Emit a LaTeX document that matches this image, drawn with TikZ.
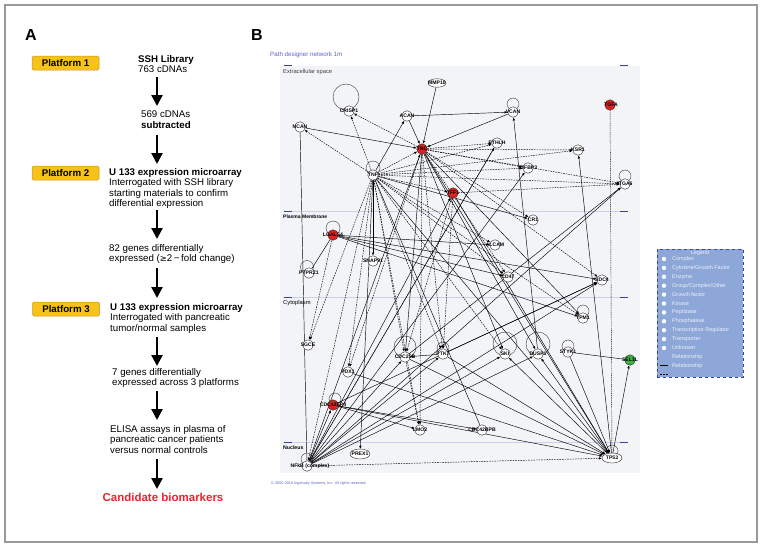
\documentclass[tikz,border=0pt]{standalone}
\usepackage{fontspec}
\setmainfont{Liberation Sans}
\usetikzlibrary{arrows.meta,shapes.geometric}
\definecolor{plat}{HTML}{F7C21B}
\definecolor{platb}{HTML}{C9961A}
\definecolor{candred}{HTML}{E3262E}
\definecolor{netred}{HTML}{E02020}
\definecolor{netgreen}{HTML}{3DB33D}
\definecolor{bgpanel}{HTML}{F3F4F7}
\definecolor{memb}{HTML}{CDD0EC}
\definecolor{membd}{HTML}{3A3FA0}
\definecolor{legfill}{HTML}{8DA7D9}
\definecolor{netblue}{HTML}{5A63C8}
\definecolor{legtxt}{HTML}{EEF1F8}
\pgfdeclarelayer{back}
\pgfdeclarelayer{bg}
\pgfsetlayers{back,bg,main}
\tikzset{
  platbox/.style={rounded corners=1.5pt,fill=plat,draw=platb,line width=0.5pt,minimum width=67pt,minimum height=14pt,inner sep=0pt,font=\bfseries\fontsize{9.7}{12}\selectfont},
  body/.style={align=left,anchor=north west,inner sep=0pt,font=\fontsize{9.7}{10.5}\selectfont},
  bigarr/.style={line width=2.3pt,-{Triangle[length=11pt,width=11pt]}},
  gn/.style={circle,draw=black!85,line width=0.4pt,fill=white,minimum size=10.5pt,inner sep=0pt},
  rn/.style={gn,fill=netred},
  grn/.style={gn,fill=netgreen},
  gl/.style={inner sep=0pt,font=\fontsize{5.1}{6}\selectfont\bfseries},
  e/.style={line width=0.45pt,-{Latex[length=3pt,width=2.5pt]}},
  ed/.style={e,dash pattern=on 1.6pt off 1pt},
  es/.style={line width=0.45pt},
  loopst/.style={draw=black!80,line width=0.4pt},
  leg/.style={anchor=west,inner sep=0pt,text=legtxt,font=\fontsize{5.5}{6}\selectfont},
  mlab/.style={anchor=west,inner sep=0pt,font=\fontsize{5.8}{6}\selectfont}
}
\begin{document}
\begin{tikzpicture}[x=1pt,y=-1pt]
\useasboundingbox (0,0) rectangle (762,547);
\draw[black!40,line width=1.2pt] (5,5) rectangle (757,542);

% ---------------- Panel A ----------------
\node[inner sep=0pt,font=\bfseries\fontsize{16}{18}\selectfont] (lA) at (31,35) {A};
\node[platbox] (p1) at (65.5,63) {Platform 1};
\node[platbox] (p2) at (65.5,173) {Platform 2};
\node[platbox] (p3) at (66,309) {Platform 3};

\node[body] (t1) at (138,55) {\textbf{SSH Library}\\763 cDNAs};
\node[body] (t2) at (141,111) {569 cDNAs\\\textbf{subtracted}};
\node[body] (t3) at (109,168) {\textbf{U 133 expression microarray}\\Interrogated with SSH library\\starting materials to confirm\\differential expression};
\node[body] (t4) at (109,244) {82 genes differentially\\expressed (\fontspec{DejaVu Sans}\fontsize{8.4}{10.5}\selectfont≥\fontspec{Liberation Sans}\fontsize{9.7}{10.5}\selectfont2\,−\,fold change)};
\node[body] (t5) at (110,303) {\textbf{U 133 expression microarray}\\Interrogated with pancreatic\\tumor/normal samples};
\node[body] (t6) at (112,368) {7 genes differentially\\expressed across 3 platforms};
\node[body] (t7) at (110,425) {ELISA assays in plasma of\\pancreatic cancer patients\\versus normal controls};
\node[inner sep=0pt,text=candred,font=\bfseries\fontsize{11.5}{13}\selectfont] (t8) at (163,497) {Candidate biomarkers};

\coordinate (a1s) at (157,77);  \coordinate (a1e) at (157,106);
\coordinate (a2s) at (157,135); \coordinate (a2e) at (157,164);
\coordinate (a3s) at (157,210); \coordinate (a3e) at (157,239);
\coordinate (a4s) at (157,268); \coordinate (a4e) at (157,298);
\coordinate (a5s) at (157,337); \coordinate (a5e) at (157,366);
\coordinate (a6s) at (157,391); \coordinate (a6e) at (157,420);
\coordinate (a7s) at (157,459); \coordinate (a7e) at (157,489);
\foreach \i in {1,...,7} \draw[bigarr] (a\i s) -- (a\i e);

% ---------------- Panel B ----------------
\node[inner sep=0pt,font=\bfseries\fontsize{16}{18}\selectfont] (lB) at (257,35) {B};
\node[anchor=west,inner sep=0pt,text=netblue,font=\fontsize{6.2}{7}\selectfont] (title) at (270,55) {Path designer network 1m};
\node[anchor=west,inner sep=0pt,text=netblue,font=\fontsize{3.8}{4}\selectfont] (copy) at (271,484) {© 2000-2010 Ingenuity Systems, Inc. All rights reserved.};

\begin{pgfonlayer}{back}
\fill[bgpanel] (280,66) rectangle (640,473);
\foreach \yy in {211,297,442} \draw[memb,line width=1pt] (283,\yy) -- (628,\yy);
\foreach \yy in {65,211,297,442} {\draw[membd,line width=0.9pt] (284,\yy) -- (292,\yy); \draw[membd,line width=0.9pt] (620,\yy) -- (628,\yy);}
\end{pgfonlayer}
\node[mlab,text=black!75] (cx1) at (283,72) {Extracellular space};
\node[mlab,font=\fontsize{5}{6}\selectfont\bfseries] (cx2) at (283,217) {Plasma Membrane};
\node[mlab] (cx3) at (283,303) {Cytoplasm};
\node[mlab,font=\fontsize{5.2}{6}\selectfont\bfseries] (cx4) at (283,448) {Nucleus};

% nodes
\node[gn,ellipse,minimum width=18pt,minimum height=8.5pt] (mmp) at (437,83) {};
\node[gn] (cris) at (349,111) {};
\node[gn] (acan) at (407,116) {};
\node[gn] (ncan) at (300,127) {};
\node[gn] (vcan) at (513,112) {};
\node[rn] (tnc) at (422,149) {};
\node[gn] (pthlh) at (497,143) {};
\node[gn] (ksr) at (578,150) {};
\node[gn] (igfbp) at (528,168) {};
\node[rn] (tgfa) at (610,105) {};
\node[gn] (itga) at (625,184) {};
\node[gn] (tnf) at (373,175) {};
\node[rn] (tff) at (453,193) {};
\node[gn] (cr1) at (533,220) {};
\node[rn] (lgals) at (333,235) {};
\node[gn] (alcam) at (495,245) {};
\node[gn] (snap) at (373,261) {};
\node[gn] (ptprz) at (309,273) {};
\node[gn] (cd47) at (508,277) {};
\node[gn] (sdc4) at (602,280) {};
\node[gn] (tpm) at (583,318) {};
\node[gn] (sgce) at (308,345) {};
\node[gn] (cdc25) at (405,357) {};
\node[gn] (ptk) at (443,354) {};
\node[gn] (ski) at (505,354) {};
\node[gn] (dusp) at (538,354) {};
\node[gn] (styk) at (568,352) {};
\node[grn] (sel) at (630,360) {};
\node[gn] (pdx) at (348,372) {};
\node[rn] (cdc42) at (333,405) {};
\node[gn] (lmo) at (420,430) {};
\node[gn] (cdcbp) at (482,430) {};
\node[gn,ellipse,minimum width=20pt,minimum height=10pt] (prex) at (360,454) {};
\node[gn] (nfkb) at (307,466) {};
\node[gn,ellipse,minimum width=20pt,minimum height=10pt] (tp53) at (612,458) {};

% labels
\node[gl] (Lmmp) at (mmp) {MMP10};
\node[gl] (Lcris) at (cris) {CRISP1};
\node[gl] (Lacan) at (acan) {ACAN};
\node[gl] (Lncan) at (ncan) {NCAN};
\node[gl] (Lvcan) at (vcan) {VCAN};
\node[gl] (Ltnc) at (tnc) {TNC};
\node[gl] (Lpthlh) at (pthlh) {PTHLH};
\node[gl] (Lksr) at (ksr) {KSR1};
\node[gl] (Ligfbp) at (igfbp) {IGFBP3};
\node[gl] (Ltgfa) at ([xshift=1pt]tgfa.center) {TGFA};
\node[gl] (Litga) at (itga) {ITGA6};
\node[gl] (Ltnf) at (tnf) {TNF};
\node[gl] (Ltff) at (tff) {TFF1};
\node[gl] (Lcr1) at (cr1) {CR1};
\node[gl] (Llgals) at (lgals) {LGALS4};
\node[gl] (Lalcam) at (alcam) {ALCAM};
\node[gl] (Lsnap) at (snap) {SNAP91};
\node[gl] (Lptprz) at (ptprz) {PTPRZ1};
\node[gl] (Lcd47) at (cd47) {CD47};
\node[gl] (Lsdc4) at (sdc4) {SDC4};
\node[gl] (Ltpm) at (tpm) {TPM1};
\node[gl] (Lsgce) at (sgce) {SGCE};
\node[gl] (Lcdc25) at (cdc25) {CDC25B};
\node[gl] (Lptk) at (ptk) {PTK7};
\node[gl] (Lski) at (ski) {SKI};
\node[gl] (Ldusp) at (dusp) {DUSP1};
\node[gl] (Lstyk) at (styk) {STYK1};
\node[gl] (Lsel) at (sel) {SEL1L};
\node[gl] (Lpdx) at (pdx) {PDX1};
\node[gl] (Lcdc42) at (cdc42) {CDC42EP4};
\node[gl] (Llmo) at (lmo) {LMO2};
\node[gl] (Lcdcbp) at (cdcbp) {CDC42BPB};
\node[gl] (Lprex) at (prex) {PREX1};
\node[gl] (Lnfkb) at ([xshift=3pt]nfkb.center) {NFkB (complex)};
\node[gl] (Ltp53) at (tp53) {TP53};

\begin{pgfonlayer}{bg}
% self loops
\draw[loopst] ([xshift=-3pt,yshift=14pt]cris.center) circle[radius=13pt];
\draw[loopst] ([yshift=8pt]vcan.center) circle[radius=6pt];
\draw[loopst] ([yshift=8pt]itga.center) circle[radius=6pt];
\draw[loopst] ([yshift=7pt]tnf.center) circle[radius=7pt];
\draw[loopst] ([yshift=7pt]lgals.center) circle[radius=7pt];
\draw[loopst] ([xshift=-2pt,yshift=6pt]ptprz.center) circle[radius=6.5pt];
\draw[loopst] ([yshift=7pt]tpm.center) circle[radius=6pt];
\draw[loopst] ([yshift=10pt]cdc25.center) circle[radius=11pt];
\draw[loopst] ([yshift=6pt]ptk.center) circle[radius=6pt];
\draw[loopst] ([yshift=10pt]ski.center) circle[radius=12pt];
\draw[loopst] ([yshift=10pt]dusp.center) circle[radius=12pt];
\draw[loopst] ([yshift=6pt]styk.center) circle[radius=6pt];
\draw[loopst] ([yshift=7pt]tp53.center) circle[radius=6pt];
\draw[loopst] ([xshift=2pt,yshift=6pt]cdc42.center) circle[radius=6pt];
\draw[loopst] ([yshift=7pt]nfkb.center) circle[radius=6pt];
% solid relationships
\foreach \a/\b in {ncan/tnc,acan/tnc,mmp/tnc,vcan/tnc,acan/vcan,tnf/acan,tnf/cr1,
  lgals/alcam,lgals/cd47,lgals/sdc4,lgals/tpm,tnf/snap,tnf/prex,
  tnc/cdc25,tnc/tp53,tnc/dusp,tnc/tpm,tnc/ski,tff/tp53,dusp/vcan,tp53/ksr,
  nfkb/igfbp,nfkb/itga,nfkb/sdc4,nfkb/ski,nfkb/dusp,nfkb/ptk,nfkb/cdc25,nfkb/cdc42,nfkb/tnc,nfkb/tff,
  cdc42/sdc4,cdc42/lmo,cdc42/cdcbp,pdx/tp53,cdc25/tp53,ptk/tp53,tp53/ski,tp53/dusp,
  styk/tp53,tp53/sel,ptk/cdc25,cdc42/tp53,ptk/sdc4,tnf/tp53,cdc25/itga}
  \draw[e] (\a) -- (\b);
\foreach \a/\b in {ncan/nfkb,lgals/ptprz,styk/sel,cdcbp/tnf,pthlh/nfkb}
  \draw[es] (\a) -- (\b);
% dashed relationships
\foreach \a/\b in {tnf/cris,tnf/ncan,tnc/cris,tnf/tnc,tnc/ksr,tnc/igfbp,tnc/itga,tnc/pthlh,
  tnc/ptk,tnc/sdc4,tnc/cr1,tnc/cd47,tnc/lmo,tnc/pdx,
  tnf/sgce,tnf/pdx,tnf/cdc25,tnf/lmo,tnf/ptk,tnf/alcam,tnf/cd47,tnf/tpm,tnf/igfbp,tnf/pthlh,
  tnf/itga,tnf/tff,tnf/ski,tnf/ksr,tff/itga,tff/ptk,lgals/sgce,cdc25/lmo,nfkb/tp53,tnf/nfkb,
  nfkb/pthlh,tff/cdc25}
  \draw[ed] (\a) -- (\b);
\draw[es,dash pattern=on 1pt off 0.8pt] (tgfa) -- (tp53);
\end{pgfonlayer}

% ---------------- Legend ----------------
\node[draw=membd,fill=legfill,dashed,line width=0.5pt,minimum width=86pt,minimum height=128pt,inner sep=0pt] (legbox) at (700,313) {};
\node[inner sep=0pt,text=legtxt,font=\fontsize{5.6}{6}\selectfont] (legT) at (700,253) {Legend};
\foreach \t [count=\i from 0] in {Complex,Cytokine/Growth Factor,Enzyme,Group/Complex/Other,Growth factor,Kinase,Peptidase,Phosphatase,Transcription Regulator,Transporter,Unknown,Relationship,Relationship}
  \node[leg] (legi\i) at (672,259+8.9*\i) {\t};
\foreach \i in {0,1,2,3,4,5,6,7,8,9,10}
  \node[circle,fill=white,inner sep=0pt,minimum size=4.4pt] (legc\i) at (664,259+8.9*\i) {};
\coordinate (r1a) at (660,365.8); \coordinate (r1b) at (668,365.8);
\coordinate (r2a) at (660,374.7); \coordinate (r2b) at (668,374.7);
\draw[black,line width=0.8pt] (r1a) -- (r1b);
\draw[black,line width=0.8pt,dash pattern=on 2pt off 1pt] (r2a) -- (r2b);
\end{tikzpicture}
\end{document}
